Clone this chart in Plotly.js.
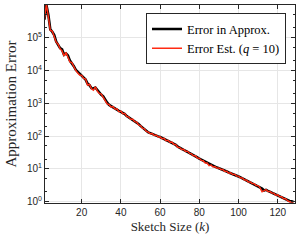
<!DOCTYPE html>
<html>
<head>
<meta charset="utf-8">
<script src="https://cdn.plot.ly/plotly-3.0.1.min.js"></script>
<style>html,body{margin:0;padding:0;background:#fff;}#chart{width:301px;height:242px;}</style>
</head>
<body>
<div id="chart"></div>
<script>
// Sketch size k
const sketchSize = [];
for (let k = 1; k <= 128; k++) sketchSize.push(k);

// log10 of "Error in Approx.", k = 1..128
const errApproxLog10 = [
 5.55,6.00,5.70,5.25,5.18,5.08,4.88,4.78,4.68,4.64,
 4.48,4.52,4.46,4.30,4.22,4.13,4.02,3.96,3.88,3.83,
 3.79,3.72,3.60,3.55,3.46,3.45,3.48,3.40,3.32,3.26,
 3.21,3.10,3.02,2.95,2.91,2.88,2.84,2.81,2.77,2.74,
 2.71,2.67,2.61,2.57,2.53,2.50,2.46,2.42,2.37,2.31,
 2.26,2.21,2.16,2.11,2.09,2.06,2.04,2.02,1.99,1.97,
 1.94,1.91,1.88,1.86,1.83,1.80,1.77,1.73,1.68,1.64,
 1.61,1.58,1.55,1.52,1.49,1.45,1.42,1.39,1.35,1.31,
 1.28,1.24,1.20,1.17,1.14,1.11,1.08,1.06,1.04,1.02,
 1.00,0.97,0.94,0.92,0.89,0.87,0.85,0.83,0.80,0.77,
 0.74,0.71,0.68,0.65,0.62,0.59,0.57,0.54,0.51,0.48,
 0.44,0.40,0.34,0.36,0.33,0.30,0.28,0.25,0.22,0.20,
 0.17,0.14,0.11,0.08,0.05,0.02,0.01,0.00
];

// log10 of "Error Est. (q = 10)", k = 1..128
const errEstLog10 = [
 5.55,6.02,5.65,5.22,5.20,5.05,4.86,4.80,4.66,4.60,
 4.44,4.55,4.42,4.26,4.24,4.10,4.00,3.92,3.86,3.85,
 3.76,3.74,3.55,3.58,3.44,3.40,3.50,3.37,3.30,3.28,
 3.18,3.12,2.98,2.96,2.88,2.90,2.82,2.83,2.74,2.76,
 2.68,2.69,2.60,2.58,2.51,2.52,2.44,2.43,2.34,2.32,
 2.24,2.22,2.14,2.12,2.07,2.08,2.02,2.03,1.97,1.98,
 1.92,1.93,1.86,1.87,1.81,1.82,1.75,1.74,1.66,1.65,
 1.59,1.60,1.53,1.54,1.47,1.46,1.40,1.40,1.33,1.32,
 1.26,1.25,1.18,1.18,1.10,1.12,1.06,1.07,1.02,1.03,
 0.98,0.98,0.92,0.93,0.87,0.88,0.83,0.84,0.78,0.78,
 0.72,0.72,0.66,0.66,0.60,0.60,0.55,0.55,0.49,0.49,
 0.42,0.30,0.34,0.37,0.31,0.31,0.26,0.26,0.20,0.21,
 0.15,0.15,0.09,0.09,0.03,0.00,0.00,-0.01
];

const xTickVals = [20, 40, 60, 80, 100, 120];
const yTickVals = [1, 10, 100, 1000, 10000, 100000];
const yTickText = ['10<sup>0</sup>', '10<sup>1</sup>', '10<sup>2</sup>', '10<sup>3</sup>', '10<sup>4</sup>', '10<sup>5</sup>'];
const seriesNames = ['Error in Approx.', 'Error Est. (<i>q</i> = 10)'];

const errApprox = errApproxLog10.map(v => Math.pow(10, v));
const errEst = errEstLog10.map(v => Math.pow(10, v));

const serif = 'Liberation Serif, DejaVu Serif, serif';
const sans = 'Liberation Sans, Arial, sans-serif';

const traces = [
  {x: sketchSize, y: errApprox, type: 'scatter', mode: 'lines', name: seriesNames[0],
   line: {color: '#000000', width: 2.6}},
  {x: sketchSize, y: errEst, type: 'scatter', mode: 'lines', name: seriesNames[1],
   line: {color: '#ff2a12', width: 1.4}}
];

const axisCommon = {
  showline: true, linecolor: '#262626', linewidth: 1, mirror: 'ticks',
  ticks: 'inside', ticklen: 4, tickwidth: 1, tickcolor: '#262626',
  showgrid: true, gridcolor: '#e6e6e6', gridwidth: 1, zeroline: false,
  tickfont: {family: sans, size: 10, color: '#262626'}
};

const layout = {
  width: 301, height: 242,
  margin: {l: 45, r: 6, t: 5, b: 39},
  font: {family: serif, size: 12, color: '#000'},
  paper_bgcolor: '#ffffff', plot_bgcolor: '#ffffff',
  showlegend: true,
  legend: {x: 0.964, y: 0.958, xanchor: 'right', yanchor: 'top',
    bgcolor: '#ffffff', bordercolor: '#262626', borderwidth: 1,
    font: {family: serif, size: 12.5, color: '#000'}, tracegroupgap: 0},
  xaxis: Object.assign({}, axisCommon, {
    range: [1.3, 128.8], tickmode: 'array', tickvals: xTickVals,
    title: {text: 'Sketch Size (<i>k</i>)', font: {family: serif, size: 13, color: '#262626'}, standoff: 4}
  }),
  yaxis: Object.assign({}, axisCommon, {
    type: 'log', range: [-0.04, 5.995], tickmode: 'array', tickvals: yTickVals, ticktext: yTickText,
    minor: {ticks: 'inside', ticklen: 2, tickcolor: '#262626', showgrid: false},
    title: {text: 'Approximation Error', font: {family: serif, size: 15, color: '#262626'}, standoff: 6}
  })
};

Plotly.newPlot('chart', traces, layout, {staticPlot: true, displayModeBar: false});
</script>
</body>
</html>
